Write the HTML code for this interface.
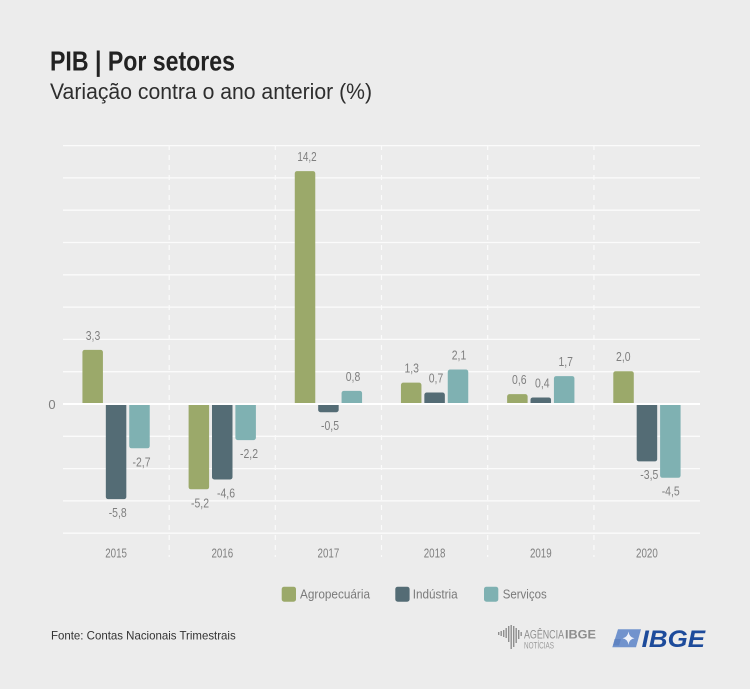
<!DOCTYPE html>
<html>
<head>
<meta charset="utf-8">
<style>
  html,body{margin:0;padding:0;background:#ececec;}
  svg{display:block;}
  text{font-family:"Liberation Sans Narrow","Liberation Sans",sans-serif;}
  .v{font-size:13px;fill:#7f7f7f;text-anchor:middle;}
</style>
</head>
<body>
<svg width="750" height="689" viewBox="0 0 750 689" xmlns="http://www.w3.org/2000/svg">
  <rect x="0" y="0" width="750" height="689" fill="#ececec"/>

  <!-- Title -->
  <text x="50" y="70.7" font-size="27.5" font-weight="bold" fill="#222" textLength="185" lengthAdjust="spacingAndGlyphs">PIB | Por setores</text>
  <text x="50" y="99" font-size="22.4" fill="#2e2e2e" textLength="322" lengthAdjust="spacingAndGlyphs">Variação contra o ano anterior (%)</text>

  <!-- horizontal gridlines -->
  <g stroke="#fbfbfb" stroke-width="1.3">
    <line x1="63" x2="700" y1="145.6" y2="145.6"/>
    <line x1="63" x2="700" y1="177.9" y2="177.9"/>
    <line x1="63" x2="700" y1="210.2" y2="210.2"/>
    <line x1="63" x2="700" y1="242.5" y2="242.5"/>
    <line x1="63" x2="700" y1="274.8" y2="274.8"/>
    <line x1="63" x2="700" y1="307.1" y2="307.1"/>
    <line x1="63" x2="700" y1="339.4" y2="339.4"/>
    <line x1="63" x2="700" y1="371.7" y2="371.7"/>
    <line x1="63" x2="700" y1="436.3" y2="436.3"/>
    <line x1="63" x2="700" y1="468.6" y2="468.6"/>
    <line x1="63" x2="700" y1="500.9" y2="500.9"/>
    <line x1="63" x2="700" y1="533.2" y2="533.2"/>
  </g>
  <!-- vertical dashed separators -->
  <g stroke="#fbfbfb" stroke-width="1.2" stroke-dasharray="5,5">
    <line x1="169.2" x2="169.2" y1="145" y2="557"/>
    <line x1="275.3" x2="275.3" y1="145" y2="557"/>
    <line x1="381.5" x2="381.5" y1="145" y2="557"/>
    <line x1="487.7" x2="487.7" y1="145" y2="557"/>
    <line x1="593.9" x2="593.9" y1="145" y2="557"/>
  </g>

  <!-- bars -->
  <g>
    <!-- 2015 -->
    <rect x="82.43" y="349.88" width="20.5" height="55.12" rx="2.3" fill="#9ba96a"/>
    <rect x="105.83" y="403" width="20.5" height="96.12" rx="2.3" fill="#546c75"/>
    <rect x="129.23" y="403" width="20.5" height="45.28" rx="2.3" fill="#7fb1b2"/>
    <!-- 2016 -->
    <rect x="188.6" y="403" width="20.5" height="86.28" rx="2.3" fill="#9ba96a"/>
    <rect x="212.0" y="403" width="20.5" height="76.44" rx="2.3" fill="#546c75"/>
    <rect x="235.4" y="403" width="20.5" height="37.08" rx="2.3" fill="#7fb1b2"/>
    <!-- 2017 -->
    <rect x="294.77" y="171.12" width="20.5" height="233.88" rx="2.3" fill="#9ba96a"/>
    <rect x="318.17" y="403" width="20.5" height="9.2" rx="2.3" fill="#546c75"/>
    <rect x="341.57" y="390.88" width="20.5" height="14.12" rx="2.3" fill="#7fb1b2"/>
    <!-- 2018 -->
    <rect x="400.95" y="382.68" width="20.5" height="22.32" rx="2.3" fill="#9ba96a"/>
    <rect x="424.35" y="392.52" width="20.5" height="12.48" rx="2.3" fill="#546c75"/>
    <rect x="447.75" y="369.56" width="20.5" height="35.44" rx="2.3" fill="#7fb1b2"/>
    <!-- 2019 -->
    <rect x="507.12" y="394.16" width="20.5" height="10.84" rx="2.3" fill="#9ba96a"/>
    <rect x="530.52" y="397.44" width="20.5" height="7.56" rx="2.3" fill="#546c75"/>
    <rect x="553.92" y="376.12" width="20.5" height="28.88" rx="2.3" fill="#7fb1b2"/>
    <!-- 2020 -->
    <rect x="613.29" y="371.2" width="20.5" height="33.8" rx="2.3" fill="#9ba96a"/>
    <rect x="636.69" y="403" width="20.5" height="58.4" rx="2.3" fill="#546c75"/>
    <rect x="660.09" y="403" width="20.5" height="74.8" rx="2.3" fill="#7fb1b2"/>
  </g>

  <!-- zero line -->
  <line x1="63" x2="700" y1="404" y2="404" stroke="#ffffff" stroke-width="2"/>
  <text x="52" y="409" font-size="13" fill="#7f7f7f" text-anchor="middle">0</text>

  <!-- value labels -->
  <g class="v">
    <text class="v" x="93" y="339.9" textLength="14.5" lengthAdjust="spacingAndGlyphs">3,3</text>
    <text class="v" x="117.7" y="517.1" textLength="18" lengthAdjust="spacingAndGlyphs">-5,8</text>
    <text class="v" x="141.5" y="466.3" textLength="18" lengthAdjust="spacingAndGlyphs">-2,7</text>

    <text class="v" x="200" y="507.3" textLength="18" lengthAdjust="spacingAndGlyphs">-5,2</text>
    <text class="v" x="226" y="497.4" textLength="18" lengthAdjust="spacingAndGlyphs">-4,6</text>
    <text class="v" x="249" y="458.1" textLength="18" lengthAdjust="spacingAndGlyphs">-2,2</text>

    <text class="v" x="307" y="161.1" textLength="19.3" lengthAdjust="spacingAndGlyphs">14,2</text>
    <text class="v" x="330" y="430.2" textLength="18" lengthAdjust="spacingAndGlyphs">-0,5</text>
    <text class="v" x="353" y="380.9" textLength="14.5" lengthAdjust="spacingAndGlyphs">0,8</text>

    <text class="v" x="411.7" y="372.7" textLength="14.5" lengthAdjust="spacingAndGlyphs">1,3</text>
    <text class="v" x="436" y="382.5" textLength="14.5" lengthAdjust="spacingAndGlyphs">0,7</text>
    <text class="v" x="459" y="359.6" textLength="14.5" lengthAdjust="spacingAndGlyphs">2,1</text>

    <text class="v" x="519.3" y="384.2" textLength="14.5" lengthAdjust="spacingAndGlyphs">0,6</text>
    <text class="v" x="542.3" y="387.4" textLength="14.5" lengthAdjust="spacingAndGlyphs">0,4</text>
    <text class="v" x="565.7" y="366.1" textLength="14.5" lengthAdjust="spacingAndGlyphs">1,7</text>

    <text class="v" x="623.3" y="361.2" textLength="14.5" lengthAdjust="spacingAndGlyphs">2,0</text>
    <text class="v" x="649.3" y="478.8" textLength="18" lengthAdjust="spacingAndGlyphs">-3,5</text>
    <text class="v" x="670.7" y="495.3" textLength="18" lengthAdjust="spacingAndGlyphs">-4,5</text>
  </g>

  <!-- year labels -->
  <g>
    <text class="v" x="116.1" y="557.3" textLength="21.7" lengthAdjust="spacingAndGlyphs">2015</text>
    <text class="v" x="222.3" y="557.3" textLength="21.7" lengthAdjust="spacingAndGlyphs">2016</text>
    <text class="v" x="328.4" y="557.3" textLength="21.7" lengthAdjust="spacingAndGlyphs">2017</text>
    <text class="v" x="434.6" y="557.3" textLength="21.7" lengthAdjust="spacingAndGlyphs">2018</text>
    <text class="v" x="540.8" y="557.3" textLength="21.7" lengthAdjust="spacingAndGlyphs">2019</text>
    <text class="v" x="646.9" y="557.3" textLength="21.7" lengthAdjust="spacingAndGlyphs">2020</text>
  </g>

  <!-- legend -->
  <rect x="281.7" y="586.7" width="14.3" height="15" rx="2.5" fill="#9ba96a"/>
  <text x="300" y="598.5" font-size="13" fill="#7a7a7a" textLength="70" lengthAdjust="spacingAndGlyphs">Agropecuária</text>
  <rect x="395.3" y="586.7" width="14.3" height="15" rx="2.5" fill="#546c75"/>
  <text x="412.7" y="598.5" font-size="13" fill="#7a7a7a" textLength="45" lengthAdjust="spacingAndGlyphs">Indústria</text>
  <rect x="484" y="586.7" width="14.3" height="15" rx="2.5" fill="#7fb1b2"/>
  <text x="502.7" y="598.5" font-size="13" fill="#7a7a7a" textLength="44" lengthAdjust="spacingAndGlyphs">Serviços</text>

  <!-- footer source -->
  <text x="51" y="639.3" font-size="12" fill="#333" textLength="184.7" lengthAdjust="spacingAndGlyphs">Fonte: Contas Nacionais Trimestrais</text>

  <!-- Agência IBGE logo -->
  <g fill="#8e8e8e">
    <rect x="498" y="632" width="1.4" height="3"/>
    <rect x="500.5" y="631" width="1.4" height="5"/>
    <rect x="503" y="630" width="1.4" height="7"/>
    <rect x="505.5" y="628" width="1.4" height="10"/>
    <rect x="508" y="626" width="1.4" height="16"/>
    <rect x="510.5" y="625" width="1.4" height="24"/>
    <rect x="513" y="626" width="1.4" height="21"/>
    <rect x="515.5" y="628" width="1.4" height="15"/>
    <rect x="518" y="630" width="1.4" height="9"/>
    <rect x="520.5" y="632" width="1.4" height="4"/>
  </g>
  <text x="524" y="638.6" font-size="11.5" fill="#8e8e8e" textLength="40" lengthAdjust="spacingAndGlyphs">AGÊNCIA</text>
  <text x="565" y="638.6" font-size="11.5" font-weight="bold" fill="#8e8e8e" textLength="31" lengthAdjust="spacingAndGlyphs">IBGE</text>
  <text x="524" y="648.4" font-size="8.8" fill="#9a9a9a" textLength="30" lengthAdjust="spacingAndGlyphs">NOTÍCIAS</text>

  <!-- IBGE logo -->
  <polygon points="618,629.3 641,629.3 636,647.3 612.3,647.3" fill="#7193cd"/>
  <path d="M628.5,631.5 Q629,637 634.5,638.3 Q629,639.3 628.5,645 Q627.8,639.3 622.5,638.3 Q627.8,637 628.5,631.5 Z" fill="#eef2fa"/>
  <polygon points="614.5,639 621,639 619,645.5 613,645.5" fill="#5579bb" opacity="0.6"/>
  <text x="641.7" y="646.8" font-family="Liberation Sans, sans-serif" font-size="24" font-weight="bold" font-style="italic" fill="#1d4b9b" textLength="63.3" lengthAdjust="spacingAndGlyphs">IBGE</text>
</svg>
</body>
</html>
